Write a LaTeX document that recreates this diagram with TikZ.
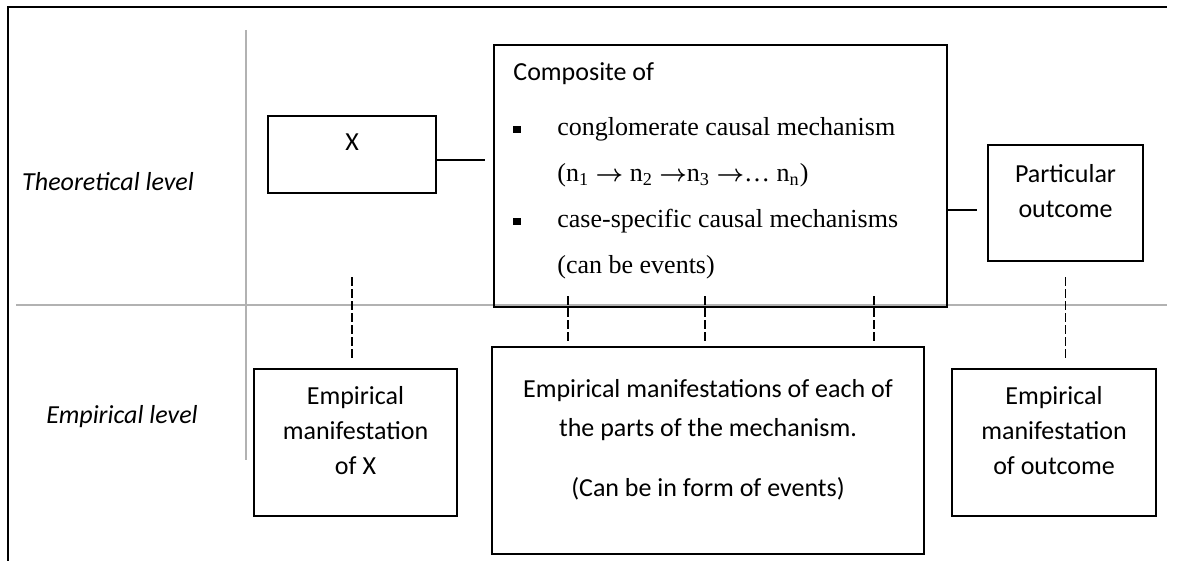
\documentclass[tikz,border=0pt]{standalone}
\usepackage{amsmath}
\usepackage{fontspec}
\setmainfont{Carlito}
\newfontfamily\timesfont{Liberation Serif}
\usepackage{tikz}

\newcommand{\sqbullet}{\rule[1.2pt]{3.8pt}{3.6pt}}
\newcommand{\nxt}{$\boldsymbol{\rightarrow}$}

\begin{document}
\begin{tikzpicture}[x=0.5pt, y=-0.5pt,
    box/.style={draw, line width=1pt, align=center, text depth=12.5pt, font=\fontsize{13}{17.5}\selectfont},
    link/.style={line width=0.8pt},
    dashlink/.style={line width=0.8pt, dash pattern=on 4.5pt off 1.5pt},
    level/.style={font=\fontsize{13}{16}\selectfont\itshape},
    divider/.style={gray!60, line width=0.8pt}]
    \useasboundingbox (0,0) rectangle (1177,561);
    % frame and the two levels
    \draw[line width=1pt] (8,561) -- (8,7) -- (1167,7);
    \draw[divider] (246,30) -- (246,460);
    \draw[divider] (16,305) -- (1167,305);
    \node[level] (theory) at (108,182) {Theoretical level};
    \node[level] (empiric) at (122,417) {Empirical level};
    % theoretical level
    \node[box, minimum width=84pt, minimum height=38.5pt] (xbox) at (352,154.5) {X};
    \node[box, minimum width=226.5pt, minimum height=131pt] (composite) at (720.5,176) {};
    \node[anchor=north west, inner sep=0pt, font=\fontsize{13}{23}\selectfont] (mechtext) at (513,48) {%
        \begin{tabular}{@{}p{22pt}@{}l@{}}
        \multicolumn{2}{@{}l@{}}{Composite of}\\[4.5pt]
        \sqbullet & \timesfont conglomerate causal mechanism\\
         & \timesfont (n\textsubscript{1} \nxt\ n\textsubscript{2} \nxt n\textsubscript{3} \nxt\dots\ n\textsubscript{n})\\
        \sqbullet & \timesfont case-specific causal mechanisms\\
         & \timesfont (can be events)
        \end{tabular}};
    \node[box, minimum width=77.5pt, minimum height=58pt] (outcome) at (1065.5,203) {Particular\\outcome};
    \coordinate (xend) at (485,160);
    \draw[link] (xbox.east |- xend) -- (xend);
    \coordinate (mechend) at (977,210);
    \draw[link] (composite.east |- mechend) -- (mechend);
    % empirical level
    \node[box, minimum width=101.5pt, minimum height=73.5pt] (empx) at (355.5,442.5) {Empirical\\manifestation\\of X};
    \node[box, minimum width=216pt, minimum height=103.5pt] (empmech) at (708,450) {Empirical manifestations of each of\\[2pt] the parts of the mechanism.\\[12.5pt] (Can be in form of events)};
    \node[box, minimum width=102pt, minimum height=73.5pt] (empout) at (1054,442.5) {Empirical\\manifestation\\of outcome};
    \draw[dashlink] ([yshift=-41.5pt]xbox.south) -- ([yshift=4.5pt]xbox.south |- empx.north);
    \draw[dashlink] ([yshift=-7.5pt]outcome.south) -- ([yshift=4.5pt]outcome.south |- empout.north);
    \foreach \x in {568,705,874}
        \draw[dashlink] (\x,296) -- (\x,342);
\end{tikzpicture}
\end{document}
